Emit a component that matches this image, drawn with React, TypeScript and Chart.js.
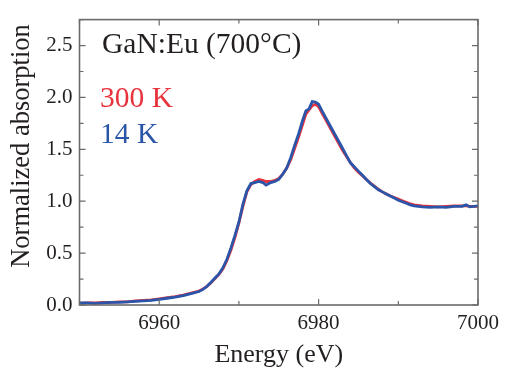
import React, { useEffect, useRef } from "react";
import { Chart, registerables } from "chart.js";

Chart.register(...registerables);

const energies = [
  6950, 6951, 6952, 6953, 6954, 6955, 6956, 6957, 6958, 6959, 6960, 6961, 6962, 6963, 6964, 6965,
  6965.5, 6966, 6966.5, 6967, 6967.5, 6968, 6968.5, 6969, 6969.5, 6970, 6970.5, 6971, 6971.5, 6972,
  6972.5, 6973, 6973.4, 6974, 6974.5, 6975, 6975.5, 6976, 6976.5, 6977, 6977.5, 6978, 6978.4, 6978.8,
  6979.2, 6979.6, 6980, 6980.5, 6981, 6981.5, 6982, 6982.5, 6983, 6983.5, 6984, 6984.5, 6985, 6985.5,
  6986, 6986.5, 6987, 6987.5, 6988, 6988.5, 6989, 6989.5, 6990, 6990.5, 6991, 6991.5, 6992, 6993,
  6994, 6995, 6996, 6997, 6998, 6998.5, 6999, 7000,
];

const blue14K = [
  0.02, 0.02, 0.015, 0.02, 0.025, 0.025, 0.03, 0.035, 0.04, 0.045, 0.055, 0.065, 0.075, 0.09, 0.11, 0.13,
  0.15, 0.18, 0.22, 0.26, 0.3, 0.36, 0.44, 0.55, 0.67, 0.8, 0.97, 1.1, 1.17, 1.18,
  1.19, 1.18, 1.155, 1.18, 1.19, 1.21, 1.26, 1.32, 1.42, 1.54, 1.65, 1.78, 1.87, 1.89,
  1.96, 1.955, 1.935, 1.86, 1.79, 1.72, 1.65, 1.58, 1.51, 1.44, 1.37, 1.33, 1.29, 1.25,
  1.21, 1.17, 1.14, 1.11, 1.09, 1.07, 1.05, 1.03, 1.01, 0.995, 0.98, 0.965, 0.955, 0.945,
  0.94, 0.945, 0.94, 0.95, 0.95, 0.965, 0.945, 0.955,
];

const red300K = [
  0.015, 0.02, 0.02, 0.025, 0.025, 0.03, 0.03, 0.04, 0.045, 0.05, 0.06, 0.07, 0.08, 0.095, 0.115, 0.135,
  0.155, 0.18, 0.215, 0.255, 0.295, 0.35, 0.43, 0.53, 0.65, 0.79, 0.95, 1.09, 1.16, 1.19,
  1.21, 1.2, 1.19, 1.19, 1.2, 1.22, 1.26, 1.32, 1.4, 1.51, 1.62, 1.74, 1.84, 1.88,
  1.92, 1.935, 1.91, 1.84, 1.77, 1.7, 1.63, 1.56, 1.49, 1.43, 1.37, 1.32, 1.28, 1.245,
  1.21, 1.175, 1.145, 1.115, 1.09, 1.07, 1.05, 1.035, 1.02, 1.005, 0.99, 0.975, 0.965, 0.955,
  0.95, 0.945, 0.95, 0.955, 0.955, 0.955, 0.95, 0.95,
];

const sampleTitle = "GaN:Eu (700°C)";
const seriesLabels = ["300 K", "14 K"];
const xTitle = "Energy (eV)";
const yTitle = "Normalized absorption";

const RED = "#e8323c";
const BLUE = "#2b55a9";
const TEXT = "#231f20";
const FRAME = "#6b6b6b";
const SERIF = "'Liberation Serif', 'Times New Roman', serif";

Chart.defaults.font.family = SERIF;

const framePlugin = {
  id: "frameTicks",
  afterDraw(chart: any) {
    const { ctx, chartArea } = chart;
    const { left, right, top, bottom } = chartArea;
    const xs = chart.scales.x;
    const ys = chart.scales.y;
    ctx.save();
    ctx.strokeStyle = FRAME;
    ctx.lineWidth = 1.6;
    ctx.strokeRect(left, top, right - left, bottom - top);
    ctx.lineWidth = 1.2;
    ctx.beginPath();
    xs.ticks.forEach((t: any) => {
      const px = xs.getPixelForValue(t.value);
      const len = Math.round(t.value) % 20 === 0 ? 6 : 4;
      ctx.moveTo(px, bottom);
      ctx.lineTo(px, bottom - len);
      ctx.moveTo(px, top);
      ctx.lineTo(px, top + len);
    });
    ys.ticks.forEach((t: any) => {
      const py = ys.getPixelForValue(t.value);
      const major = Math.abs(t.value * 2 - Math.round(t.value * 2)) < 1e-6;
      const len = major ? 6 : 4;
      ctx.moveTo(left, py);
      ctx.lineTo(left + len, py);
      ctx.moveTo(right, py);
      ctx.lineTo(right - len, py);
    });
    ctx.stroke();

    ctx.textAlign = "left";
    ctx.textBaseline = "alphabetic";
    ctx.font = `29.5px ${SERIF}`;
    ctx.fillStyle = TEXT;
    ctx.fillText(sampleTitle, 102, 53);
    ctx.fillStyle = RED;
    ctx.fillText(seriesLabels[0], 100, 107);
    ctx.fillStyle = BLUE;
    ctx.fillText(seriesLabels[1], 100, 143);

    // y-axis title
    ctx.save();
    ctx.translate(28.5, 146);
    ctx.rotate(-Math.PI / 2);
    ctx.textAlign = "center";
    ctx.font = `26.5px ${SERIF}`;
    ctx.fillStyle = TEXT;
    ctx.fillText(yTitle, 0, 0);
    ctx.restore();
    ctx.restore();
  },
};

export default function App() {
  const ref = useRef<HTMLCanvasElement | null>(null);
  useEffect(() => {
    if (!ref.current) return;
    const chart = new Chart(ref.current, {
      type: "line",
      data: {
        datasets: [
          {
            label: seriesLabels[1],
            data: energies.map((e, i) => ({ x: e, y: blue14K[i] })),
            borderColor: BLUE,
            borderWidth: 2.8,
            pointRadius: 0,
            tension: 0,
          },
          {
            label: seriesLabels[0],
            data: energies.map((e, i) => ({ x: e, y: red300K[i] })),
            borderColor: RED,
            borderWidth: 2.8,
            pointRadius: 0,
            tension: 0,
          },
        ],
      },
      options: {
        animation: false,
        responsive: false,
        font: { family: SERIF },
        layout: { padding: { left: 0, top: 10.5, right: 23.5, bottom: 0 } },
        plugins: { legend: { display: false }, tooltip: { enabled: false } },
        scales: {
          x: {
            type: "linear",
            min: 6950,
            max: 7000,
            grid: { display: false, drawTicks: false },
            border: { display: false },
            ticks: {
              stepSize: 10,
              autoSkip: false,
              maxRotation: 0,
              padding: 6,
              color: TEXT,
              font: { family: SERIF, size: 21 },
              callback: (v: any) => (Math.round(v) % 20 === 0 ? String(v) : ""),
            },
            title: {
              display: true,
              text: xTitle,
              color: TEXT,
              font: { family: SERIF, size: 26, lineHeight: 1 },
              padding: { top: 0, bottom: 1 },
            },
            afterFit: (s: any) => {
              s.height = 64;
            },
          },
          y: {
            type: "linear",
            min: 0,
            max: 2.75,
            grid: { display: false, drawTicks: false },
            border: { display: false },
            ticks: {
              stepSize: 0.25,
              autoSkip: false,
              padding: 7,
              color: TEXT,
              font: { family: SERIF, size: 21 },
              callback: (v: any) =>
                Math.abs(v * 2 - Math.round(v * 2)) < 1e-6 ? Number(v).toFixed(1) : "",
            },
            title: { display: false, text: yTitle },
            afterFit: (s: any) => {
              s.width = 79.5;
            },
          },
        },
      },
      plugins: [framePlugin],
    });
    return () => chart.destroy();
  }, []);
  return (
    <div style={{ position: "absolute", left: 0, top: 0, width: 505, height: 369, background: "#fff" }}>
      <canvas ref={ref} width={505} height={369} />
    </div>
  );
}
